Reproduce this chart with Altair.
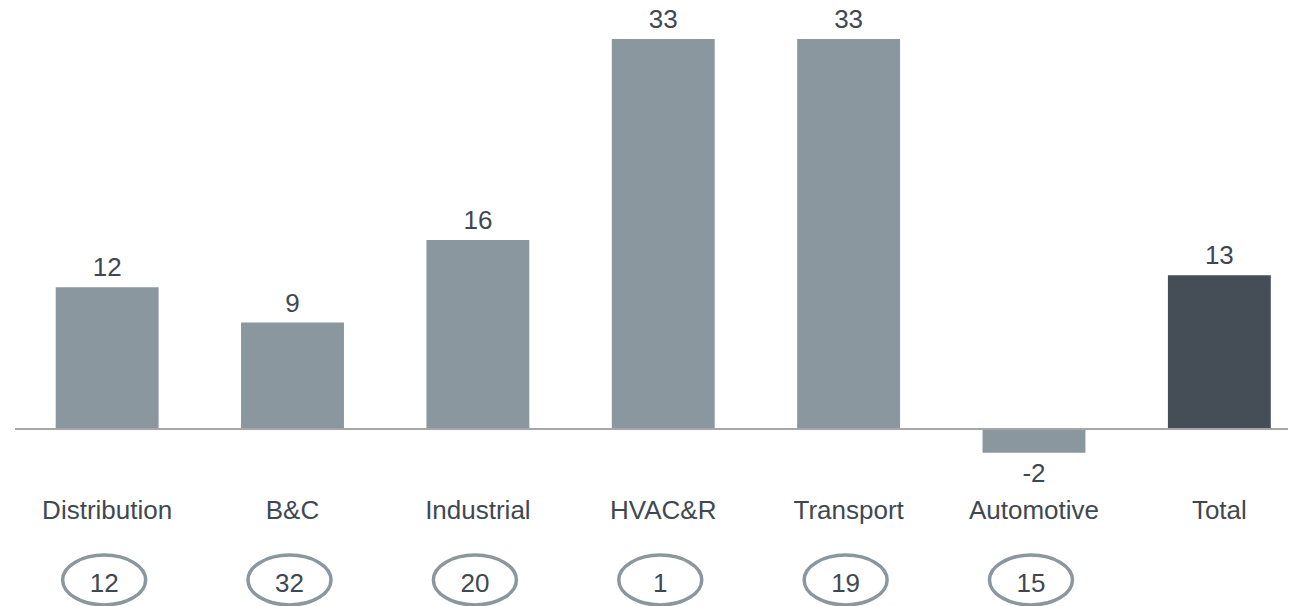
import altair as alt
import pandas as pd

categories = ["Distribution", "B&C", "Industrial", "HVAC&R", "Transport", "Automotive", "Total"]
values = [12, 9, 16, 33, 33, -2, 13]
ranks = [12, 32, 20, 1, 19, 15, None]
kinds = ["segment", "segment", "segment", "segment", "segment", "segment", "total"]

df = pd.DataFrame({"cat": categories, "value": values, "rank": ranks, "kind": kinds})
df["value_label"] = df["value"].apply(lambda v: str(int(v)))
df["rank_label"] = df["rank"].apply(lambda r: "" if pd.isna(r) else str(int(r)))

FONT = "Liberation Sans"
TXT = "#3f4851"
BAR = "#8a979f"
DARK = "#454d56"

W, H = 1280, 598
PX = 11.82
ZERO_Y = 421

x = alt.X("cat:N", sort=categories, axis=None,
          scale=alt.Scale(range=[7, 1303.5], paddingInner=0.445, paddingOuter=0.2196))
yscale = alt.Scale(domain=[-(H - ZERO_Y) / PX, ZERO_Y / PX], nice=False, zero=False)

base = alt.Chart(df)

bars = base.mark_bar().encode(
    x=x,
    y=alt.Y("value:Q", scale=yscale, axis=None),
    y2=alt.datum(0),
    color=alt.Color("kind:N", scale=alt.Scale(domain=["segment", "total"], range=[BAR, DARK]), legend=None),
)

pos_labels = base.transform_filter("datum.value >= 0").mark_text(
    font=FONT, fontSize=26, color=TXT, baseline="alphabetic", dy=-11
).encode(x=x, y=alt.Y("value:Q", scale=yscale), text="value_label:N")

neg_labels = base.transform_filter("datum.value < 0").mark_text(
    font=FONT, fontSize=26, color=TXT, baseline="top", dy=8
).encode(x=x, y=alt.Y("value:Q", scale=yscale), text="value_label:N")

zero_line = alt.Chart(pd.DataFrame({"z": [0]})).mark_rule(color="#a6a6a6", strokeWidth=2).encode(
    y=alt.Y("z:Q", scale=yscale), x=alt.value(7), x2=alt.value(W)
)

cat_labels = base.mark_text(font=FONT, fontSize=26, color=TXT, baseline="alphabetic").encode(
    x=x, y=alt.value(511), text="cat:N"
)

ELLIPSE = ("M -1 0 C -1 -0.3314 -0.5523 -0.6 0 -0.6 C 0.5523 -0.6 1 -0.3314 1 0 "
           "C 1 0.3314 0.5523 0.6 0 0.6 C -0.5523 0.6 -1 0.3314 -1 0 Z")

ranked = base.transform_filter("datum.rank_label != ''")

ellipses = ranked.mark_point(shape=ELLIPSE, size=83 * 83, filled=False, stroke=BAR,
                             strokeWidth=3.5, opacity=1, xOffset=-3).encode(
    x=x, y=alt.value(572)
)

rank_text = ranked.mark_text(font=FONT, fontSize=26, color=TXT, baseline="alphabetic", dx=-3).encode(
    x=x, y=alt.value(584), text="rank_label:N"
)

chart = alt.layer(bars, zero_line, pos_labels, neg_labels, cat_labels, ellipses, rank_text).properties(
    width=W, height=H, autosize=alt.AutoSizeParams(type="none"), padding=0
).configure_view(strokeWidth=0)

chart.save("out.html", embed_options={"renderer": "svg", "actions": False})
